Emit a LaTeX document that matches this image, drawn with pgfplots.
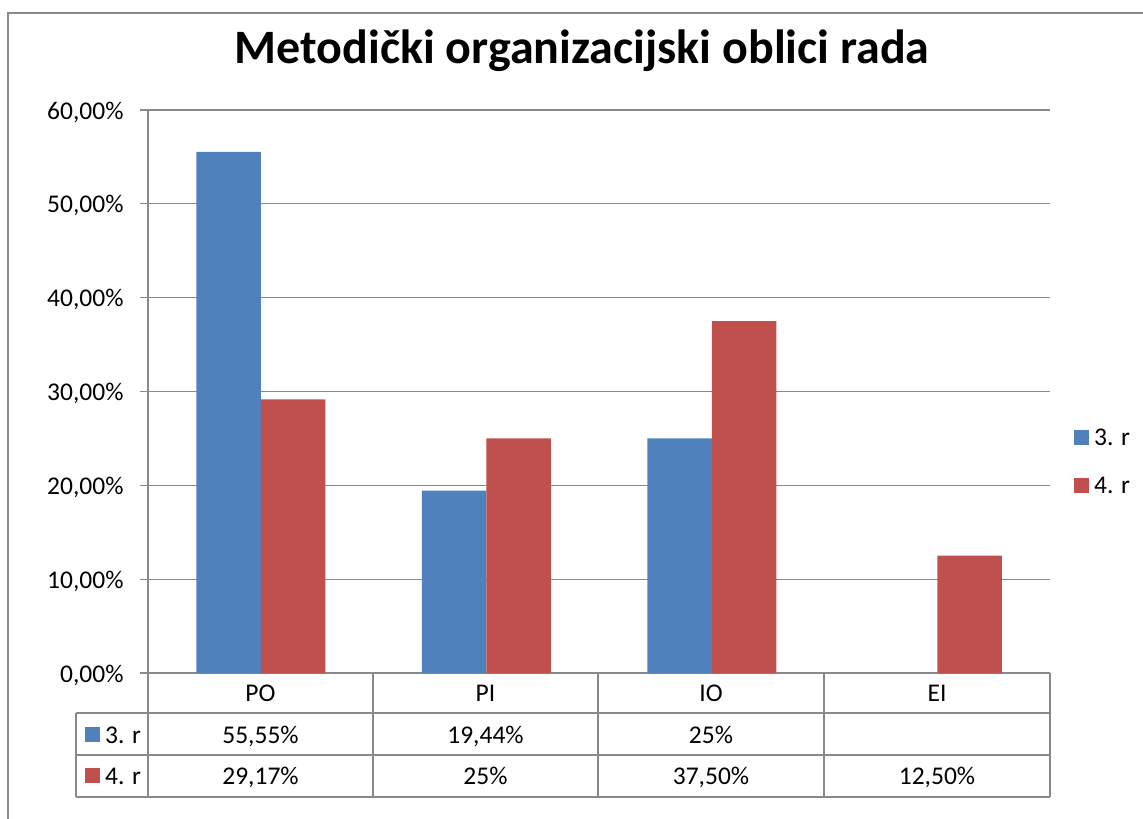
\documentclass[border=0pt]{standalone}
\usepackage{pgfplots}
\pgfplotsset{compat=1.18}
\usepackage{fontspec}
\setmainfont{Carlito}
\definecolor{b3}{HTML}{4F81BD}
\definecolor{r4}{HTML}{C0504D}
\definecolor{gr}{HTML}{898989}
\begin{document}
\begin{tikzpicture}[x=1pt,y=1pt]
\path[use as bounding box] (0,0) rectangle (1143,-819);
\draw[gr, line width=1.5pt] (8,-819) -- (8,-13) -- (1143,-13);
\node[font=\fontsize{48}{52}\selectfont\bfseries, anchor=base, inner sep=0pt] at (582,-63) {Metodički organizacijski oblici rada};
\begin{axis}[at={(148pt,-673pt)}, anchor=south west, scale only axis,
  width=902pt, height=563pt,
  xmin=-0.5, xmax=3.5, ymin=0, ymax=60,
  ytick={0,10,...,60}, xtick=\empty,
  ymajorgrids, grid style={gr, line width=1.3pt},
  axis x line=bottom, axis y line=left,
  axis line style={gr, line width=1.3pt, -},
  tick style={gr, line width=1.3pt},
  tick align=outside, major tick length=8pt,
  ybar=0pt, bar width=64.5pt,
  yticklabel style={font=\fontsize{25.5}{28}\selectfont, xshift=-13pt, yshift=-2pt, /pgf/number format/.cd, fixed, fixed zerofill, precision=2, use comma, assume math mode=true},
  yticklabel={\pgfmathprintnumber{\tick}\%},
  clip=false]
\addplot[fill=b3, draw=none] coordinates {(0,55.55) (1,19.44) (2,25)};
\addplot[fill=r4, draw=none] coordinates {(0,29.17) (1,25) (2,37.5) (3,12.5)};
\end{axis}
% data table
\begin{scope}[gr, line width=1.3pt]
\draw (76,-713) -- (1050,-713);
\draw (76,-755) -- (1050,-755);
\draw (76,-797) -- (1050,-797);
\draw (76,-713) -- (76,-797);
\foreach \x in {148,373,598,824,1050} \draw (\x,-673) -- (\x,-797);
\end{scope}
\begin{scope}[every node/.style={font=\fontsize{25.5}{28}\selectfont, inner sep=0pt, anchor=base}]
\node at (260.5,-701) {PO};
\node at (485.5,-701) {PI};
\node at (711,-701) {IO};
\node at (937,-701) {EI};
\node at (260.5,-743) {55,55\%};
\node at (485.5,-743) {19,44\%};
\node at (711,-743) {25\%};
\node at (260.5,-784) {29,17\%};
\node at (485.5,-784) {25\%};
\node at (711,-784) {37,50\%};
\node at (937,-784) {12,50\%};
\fill[b3] (85,-727) rectangle (100,-742);
\fill[r4] (85,-768) rectangle (100,-783);
\node[anchor=base west] at (105,-743) {3. r};
\node[anchor=base west] at (105,-784) {4. r};
% legend
\fill[b3] (1074,-430) rectangle (1089,-445);
\fill[r4] (1074,-478) rectangle (1089,-493);
\node[anchor=base west] at (1094,-445) {3. r};
\node[anchor=base west] at (1094,-493) {4. r};
\end{scope}
\end{tikzpicture}
\end{document}
